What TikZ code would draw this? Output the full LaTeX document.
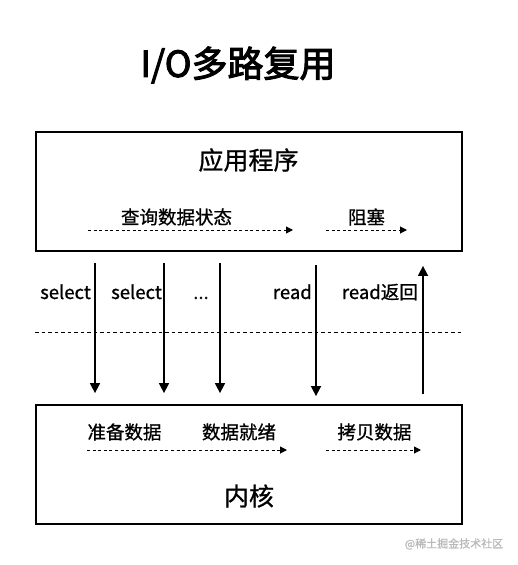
\documentclass[tikz,border=0pt]{standalone}
\usepackage{fontspec}
\setmainfont{Noto Sans CJK SC}[FakeBold=0.9]
\newfontfamily\titlefont{Noto Sans CJK SC}[FakeBold=2.8]
\usetikzlibrary{arrows.meta, positioning, calc}

\begin{document}
\begin{tikzpicture}[
  x=1pt, y=-1pt,
  frame/.style={draw, line width=1.8pt, minimum width=426pt,
                minimum height=119pt, inner sep=0pt},
  head/.style={font=\fontsize{25}{28}\selectfont, inner sep=0pt},
  lbl/.style={font=\fontsize{18.5}{21}\selectfont, inner sep=0pt},
  call/.style={-{Triangle[length=10pt, width=10pt]}, line width=1.6pt},
  flow/.style={-{Triangle[length=7pt, width=7pt]}, line width=1pt,
               dash pattern=on 3pt off 2.6pt},
]
\useasboundingbox (0,0) rectangle (517,565);

% ── title ────────────────────────────────────────────────
\node[font=\fontsize{36}{40}\selectfont\titlefont, inner sep=0pt] (title) at (238,65)
  {I/O多路复用};

% ── application box ──────────────────────────────────────
\node[frame] (app) at (249,191.5) {};
\node[head] (apptxt) at (248.5,160) {应用程序};
\node[lbl] (query) at (176.5,217) {查询数据状态};
\node[lbl] (block) at (366.5,217) {阻塞};
\coordinate (q0) at (88,230);  \coordinate (q1) at (293,230);
\coordinate (b0) at (326,230); \coordinate (b1) at (407,230);
\draw[flow] (q0) -- (q1);
\draw[flow] (b0) -- (b1);

% ── kernel box ───────────────────────────────────────────
\node[frame] (kernel) at (249,464.5) {};
\node[lbl] (prep) at (124.5,432) {准备数据};
\node[lbl] (ready) at (239,432) {数据就绪};
\node[lbl] (copy) at (374.5,432) {拷贝数据};
\node[head] (kertxt) at (249,496) {内核};
\coordinate (p0) at (87,450);  \coordinate (p1) at (287,450);
\coordinate (c0) at (326,450); \coordinate (c1) at (421,450);
\draw[flow] (p0) -- (p1);
\draw[flow] (c0) -- (c1);

% ── user / kernel boundary ───────────────────────────────
\draw[line width=1pt, dash pattern=on 3.5pt off 3pt]
  (app.south west |- 0,332) -- (app.south east |- 0,332);

% ── calls ────────────────────────────────────────────────
\coordinate (sel1) at (95,0);
\coordinate (sel2) at (164,0);
\coordinate (more) at (220,0);
\coordinate (rd)   at (316,0);
\coordinate (ret)  at (423,0);

\draw[call, shorten <=11pt, shorten >=11pt] (app.south -| sel1) -- (kernel.north -| sel1);
\draw[call, shorten <=11pt, shorten >=11pt] (app.south -| sel2) -- (kernel.north -| sel2);
\draw[call, shorten <=11pt, shorten >=11pt] (app.south -| more) -- (kernel.north -| more);
\draw[call, shorten <=13pt, shorten >=8pt]  (app.south -| rd)   -- (kernel.north -| rd);
\draw[call, shorten <=10pt, shorten >=14pt] (kernel.north -| ret) -- (app.south -| ret);

\node[lbl, anchor=base east] (sel1txt) at (91,299) {select};
\node[lbl, anchor=base east] (sel2txt) at (162,299) {select};
\node[lbl, anchor=base] (moretxt) at (201,299) {...};
\node[lbl, anchor=base east] (rdtxt) at (312,299) {read};
\node[lbl, anchor=base east] (rettxt) at (418,299) {read返回};

% ── watermark ────────────────────────────────────────────
\node[font=\fontsize{11}{13}\selectfont, text=gray!55, inner sep=0pt] (mark) at (454,544)
  {@稀土掘金技术社区};
\end{tikzpicture}
\end{document}
